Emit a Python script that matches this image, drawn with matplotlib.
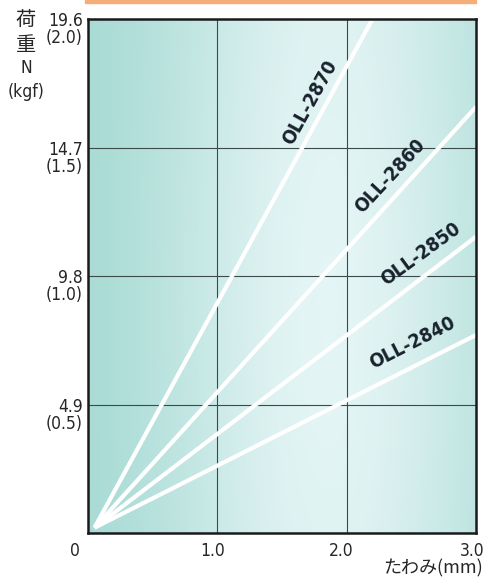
import numpy as np
import matplotlib
matplotlib.use("Agg")
import matplotlib.pyplot as plt
from matplotlib.colors import LinearSegmentedColormap
from matplotlib.transforms import ScaledTranslation, blended_transform_factory

# ---- data ----
models = ["OLL-2840", "OLL-2850", "OLL-2860", "OLL-2870"]
start_deflection = 0.05          # mm
start_load = 0.2                 # N
end_deflection = [3.0, 3.0, 3.0, 2.2]   # mm
end_load = [7.55, 11.3, 16.25, 19.6]    # N
y_ticks_n = [4.9, 9.8, 14.7, 19.6]
y_ticks_kgf = ["(0.5)", "(1.0)", "(1.5)", "(2.0)"]
x_ticks = [1.0, 2.0, 3.0]
x_tick_labels = ["1.0", "2.0", "3.0"]
label_pos = {"OLL-2840": (2.51, 7.25), "OLL-2850": (2.575, 10.64),
             "OLL-2860": (2.335, 13.6), "OLL-2870": (1.717, 16.4)}

NARROW = ["DejaVu Sans"]
CJK = ["Noto Sans CJK JP", "DejaVu Sans"]
TXT = "#262626"
STRETCH = "condensed"

fig = plt.figure(figsize=(4.85, 5.78), dpi=100)
ax = fig.add_axes([88/485, 45/578, 388/485, 514/578])
ax.set_xlim(0, 3.0)
ax.set_ylim(0, 19.6)

# background gradient
nx, ny = 300, 200
xs = np.linspace(0, 1, nx)
ys = np.linspace(0, 1, ny)
X, Y = np.meshgrid(xs, ys)
h = np.exp(-((X - 0.62) / 0.45) ** 2)
v = 0.85 + 0.15 * np.exp(-((Y - 0.45) / 0.6) ** 2)
t = np.clip(h * v, 0, 1)
cmap = LinearSegmentedColormap.from_list("bg", ["#a0d7d0", "#e4f5f5"])
ax.imshow(t, cmap=cmap, extent=[0, 3.0, 0, 19.6], aspect="auto",
          origin="lower", zorder=0, vmin=0, vmax=1)

# grid
for xv in x_ticks[:-1]:
    ax.axvline(xv, color="#3c4a4a", lw=0.8, zorder=1)
for yv in y_ticks_n[:-1]:
    ax.axhline(yv, color="#3c4a4a", lw=0.8, zorder=1)

# lines
for m, ex, ey in zip(models, end_deflection, end_load):
    ax.plot([start_deflection, ex], [start_load, ey], color="white",
            lw=3.0, solid_capstyle="butt", zorder=3)

angles = {"OLL-2840": 27, "OLL-2850": 36, "OLL-2860": 47, "OLL-2870": 61}
for m in models:
    x, y = label_pos[m]
    ax.text(x, y, m, rotation=angles[m], ha="center", va="center",
            rotation_mode="anchor", fontsize=14, fontweight="bold",
            fontstretch=STRETCH, color="#18212c", family=NARROW, zorder=4)

for s in ax.spines.values():
    s.set_linewidth(1.8)
    s.set_color("#1a1a1a")
    s.set_zorder(5)
ax.set_xticks([])
ax.set_yticks([])

# y tick labels (two lines)
trans = blended_transform_factory(ax.transAxes, ax.transData)
for v, k in zip(y_ticks_n, y_ticks_kgf):
    off = ScaledTranslation(-5/100, 7/100, fig.dpi_scale_trans)
    ax.text(0, v, f"{v:.1f}\n{k}", transform=trans + off, ha="right", va="top",
            fontsize=12.5, color=TXT, family=NARROW, fontstretch=STRETCH, linespacing=0.95)

# x tick labels
transx = blended_transform_factory(ax.transData, ax.transAxes)
for v, lab in zip(x_ticks, x_tick_labels):
    ha = "center" if v < 3 else "right"
    dx = -5/100 if v < 3 else 8/100
    off = ScaledTranslation(dx, -9/100, fig.dpi_scale_trans)
    ax.text(v, 0, lab, transform=transx + off, ha=ha, va="top",
            fontsize=12.5, color=TXT, family=NARROW, fontstretch=STRETCH)
ax.text(0, 0, "0", transform=transx + ScaledTranslation(-13/100, -9/100, fig.dpi_scale_trans),
        ha="center", va="top", fontsize=12.5, color=TXT, family=NARROW, fontstretch=STRETCH)

# axis titles
fig.text(483/485, 1 - 568/578, "たわみ(mm)", ha="right", va="center",
         fontsize=13, color=TXT, family=CJK)
fig.text(26/485, 1 - 21/578, "荷", ha="center", va="center", fontsize=14.5, color=TXT, family=CJK)
fig.text(26/485, 1 - 45/578, "重", ha="center", va="center", fontsize=14.5, color=TXT, family=CJK)
fig.text(26/485, 1 - 68/578, "N", ha="center", va="center", fontsize=12.5, color=TXT,
         family=NARROW, fontstretch=STRETCH)
fig.text(26/485, 1 - 92/578, "(kgf)", ha="center", va="center", fontsize=12.5, color=TXT,
         family=NARROW, fontstretch=STRETCH)

# orange top bar
fig.patches.append(plt.Rectangle((85/485, 1 - 3/578), 391/485, 3/578,
                                 transform=fig.transFigure, color="#f6ae78", zorder=0))

fig.savefig("out.png", dpi=100)
